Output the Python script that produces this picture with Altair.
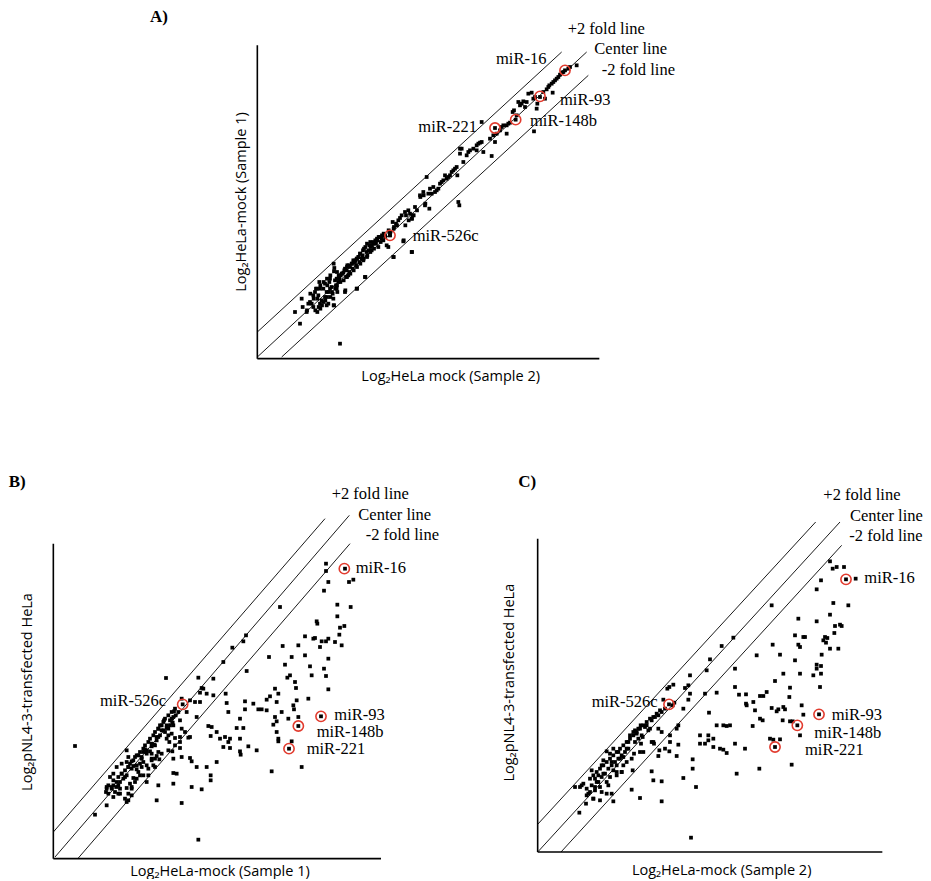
import altair as alt
import pandas as pd

# ---------------- Panel A : HeLa mock sample 1 vs sample 2 ----------------
A_POINTS = [
    (330, 1025), (210, 965), (195, 930),
    (215, 890), (218, 915), (230, 930), (240, 900), (245, 905), (250, 915), (255, 870), (258, 860),
    (262, 930), (265, 880), (268, 840), (270, 905), (275, 895), (280, 860), (285, 885), (290, 870),
    (292, 850), (295, 905), (298, 840), (300, 860), (305, 855), (308, 875), (310, 890), (312, 808),
    (315, 835), (318, 850), (320, 860), (322, 870), (325, 840), (328, 830), (332, 820), (335, 815),
    (340, 812), (345, 800), (348, 825), (350, 805), (352, 790), (355, 820), (358, 810), (360, 795),
    (365, 785), (368, 800), (370, 775), (375, 780), (378, 790), (380, 770), (385, 765), (388, 780),
    (390, 755), (395, 770), (398, 760), (400, 775), (402, 740), (405, 825), (410, 750), (412, 760),
    (415, 745), (418, 730), (422, 735), (425, 745), (430, 720), (432, 740), (438, 725), (442, 715),
    (445, 735), (448, 705), (452, 720), (455, 710), (460, 715), (465, 700), (470, 730), (475, 735),
    (480, 700), (478, 690), (488, 660), (492, 675), (498, 665), (505, 655), (510, 648), (515, 640),
    (520, 718), (525, 630), (528, 640), (535, 625), (540, 635), (545, 650), (548, 640), (555, 615),
    (545, 750), (490, 765), (380, 860), (345, 870), (312, 910), (290, 910), (320, 830), (300, 830),
    (270, 860), (250, 880), (235, 905), (262, 890), (285, 845),
    (311, 785), (321, 810), (326, 820), (336, 815), (343, 805), (351, 795), (356, 790), (366, 785),
    (371, 780), (376, 775), (381, 770), (386, 765), (391, 755), (399, 745), (406, 735), (411, 725),
    (421, 720), (426, 730), (431, 725), (436, 715), (441, 710), (446, 705), (456, 700), (461, 695),
    (466, 705), (406, 825), (381, 860), (346, 865), (296, 870), (301, 885), (281, 900), (271, 920),
    (256, 925), (231, 925), (311, 910), (491, 765), (521, 715), (526, 670), (546, 750), (536, 655),
    (546, 650), (551, 640), (561, 625), (571, 585), (586, 605), (581, 580), (501, 670), (491, 680),
    (481, 690), (476, 685), (421, 750), (411, 765), (401, 770), (391, 785), (381, 795), (371, 805),
    (361, 815), (351, 825), (341, 835), (331, 840), (321, 850), (316, 860), (306, 870), (291, 885),
    (286, 895), (276, 910), (266, 915), (251, 890), (241, 875), (261, 860), (271, 850), (281, 840),
    (291, 830), (301, 820), (313, 798),
    (570, 580), (580, 570), (585, 610), (590, 525), (595, 575), (598, 620), (600, 560), (605, 575),
    (610, 555), (615, 570), (620, 565), (625, 560), (630, 545), (635, 540), (640, 535), (645, 520),
    (650, 530), (655, 525), (660, 520), (665, 510), (670, 505), (675, 500), (680, 495), (682, 520),
    (685, 600), (688, 610), (690, 440), (695, 440), (690, 455), (700, 480), (710, 460), (715, 450),
    (720, 445), (730, 440), (740, 430), (745, 425), (750, 422), (755, 420), (740, 445), (760, 450),
    (785, 462), (780, 410), (790, 400), (795, 420), (800, 395), (810, 385), (815, 375), (820, 370),
    (830, 395), (755, 360),
    (830, 370), (835, 365), (840, 362), (848, 330), (852, 325), (860, 340), (865, 300), (870, 310),
    (875, 305), (880, 298), (885, 315), (890, 300), (895, 275), (905, 272), (910, 290), (915, 285),
    (920, 320), (922, 305), (912, 388), (930, 285), (940, 270), (945, 290), (950, 262), (955, 255),
    (958, 250), (965, 245), (968, 272), (970, 240), (975, 235), (980, 230), (985, 225), (990, 218),
    (995, 212), (1000, 210), (1005, 205), (1015, 200), (1020, 195), (1040, 190), (857, 353),
    (795, 378), (480, 700),
]
A_CIRCLES = [(1005, 205), (930, 283), (857, 353), (795, 378), (480, 700)]
A_FOLDS = [(82, 990, 995, 150), (82, 1065, 1070, 150), (155, 1065, 1075, 220)]
A_AXES = [(82, 130, 82, 1070), (82, 1070, 1108, 1070)]
A_LABELS = [("miR-16", 798, 172), ("miR-93", 990, 293), ("miR-148b", 900, 357),
            ("miR-221", 565, 375), ("miR-526c", 548, 703)]
A_FOLD_LABELS = [("+2 fold line", 1013, 80), ("Center line", 1093, 142), ("-2 fold line", 1115, 205)]
A_XTITLE = ("Log\u2082HeLa mock (Sample 2)", 662, 1125)
A_YTITLE = ("Log\u2082HeLa-mock (Sample 1)", 35, 600)
A_LETTER = ("A)", -240, 45)

# ---------------- Panel B : pNL4-3 vs mock sample 1 ----------------
B_POINTS = [
    (978, 275), (978, 297), (985, 330), (972, 356), (1035, 290), (1047, 330), (1060, 323), (1052, 405),
    (1012, 398), (1012, 433), (1020, 467), (1033, 462), (1018, 488), (985, 500), (978, 508), (965, 508),
    (952, 455), (950, 448), (945, 498), (940, 500), (915, 493), (895, 520), (848, 522), (840, 405),
    (875, 555), (855, 578), (915, 550), (930, 583), (935, 610), (985, 560), (972, 590), (978, 612),
    (985, 652), (1005, 510), (1025, 520), (960, 525), (870, 610), (862, 617), (885, 630), (888, 648),
    (890, 685), (880, 700), (882, 712), (895, 735), (865, 740), (925, 680), (835, 665), (825, 650),
    (810, 673), (800, 683), (830, 690), (807, 555), (760, 695), (775, 712), (785, 712), (800, 715),
    (845, 720), (825, 735), (830, 748), (820, 758), (830, 780), (835, 800), (835, 808), (875, 808),
    (905, 885), (815, 898), (867, 830), (963, 733), (895, 762),
    (735, 712), (735, 688), (740, 597), (738, 490), (730, 508), (697, 527), (670, 570), (640, 620),
    (640, 670), (677, 665), (680, 693), (685, 720), (720, 740), (710, 768), (730, 768), (720, 800),
    (690, 800), (685, 810), (675, 795), (660, 800), (670, 825), (690, 828), (720, 838), (722, 848),
    (745, 823), (770, 835), (625, 762), (650, 780), (632, 792), (635, 765), (605, 648), (600, 662),
    (620, 665), (595, 617), (600, 690), (590, 735), (570, 795), (565, 797), (545, 770), (540, 828),
    (545, 855), (570, 858), (575, 868), (650, 870), (620, 885), (632, 910), (632, 925), (590, 885),
    (575, 945), (605, 952), (545, 993), (520, 903), (530, 905), (520, 935), (520, 860), (517, 838),
    (525, 798), (515, 785), (510, 760), (518, 752), (470, 985), (475, 940), (440, 930), (445, 910),
    (460, 880), (478, 862), (500, 800), (505, 770), (540, 745), (535, 720), (522, 718), (560, 720),
    (570, 685), (585, 690), (548, 697), (595, 1103), (225, 822), (285, 1028), (320, 1000), (320, 945),
    (318, 960), (330, 915), (345, 960), (350, 945), (355, 940), (360, 965), (380, 990), (385, 985),
    (395, 970), (350, 885), (365, 875), (380, 870), (395, 868), (385, 855), (400, 882), (410, 892),
    (415, 900), (420, 875), (425, 885), (430, 870), (410, 850), (430, 840), (435, 832), (440, 845),
    (450, 838), (455, 823), (462, 818), (470, 805), (480, 790), (490, 775), (475, 770), (495, 780),
    (485, 760), (492, 745), (498, 618), (500, 768), (515, 740), (527, 730), (520, 760), (465, 820),
    (440, 880), (425, 860), (405, 930), (395, 945), (375, 915), (390, 935), (360, 930), (340, 905),
    (365, 905), (385, 885), (380, 835), (470, 852), (455, 860), (465, 885), (545, 680), (610, 650),
    (380, 948), (400, 918), (340, 940), (335, 950), (420, 910), (455, 845), (475, 795), (505, 790),
    (508, 810), (540, 795), (555, 780),
    (320, 950), (325, 940), (335, 945), (340, 925), (350, 930), (355, 915), (360, 950), (365, 905),
    (370, 920), (375, 895), (380, 910), (385, 885), (390, 875), (395, 890), (400, 865), (405, 855),
    (410, 880), (415, 850), (420, 840), (425, 855), (430, 830), (435, 820), (440, 835), (445, 810),
    (450, 800), (455, 815), (460, 790), (465, 780), (470, 795), (475, 770), (480, 760), (485, 775),
    (490, 750), (495, 740), (500, 760), (505, 730), (510, 745), (515, 720), (520, 735), (525, 710),
    (355, 965), (340, 975), (325, 965), (395, 950), (385, 965), (375, 980), (410, 920), (430, 910),
    (445, 890), (465, 860), (485, 845), (505, 835), (525, 820), (540, 810), (455, 865), (475, 840),
]
B_CIRCLES = [(1033, 290), (548, 697), (963, 733), (895, 762), (867, 830)]
B_FOLDS = [(160, 1080, 975, 140), (165, 1155, 1048, 130), (235, 1158, 1050, 215)]
B_AXES = [(160, 215, 160, 1160), (160, 1160, 1143, 1160)]
B_LABELS = [("miR-16", 1067, 287), ("miR-526c", 300, 688), ("miR-93", 1003, 728),
            ("miR-148b", 950, 780), ("miR-221", 920, 832)]
B_FOLD_LABELS = [("+2 fold line", 995, 65), ("Center line", 1075, 128), ("-2 fold line", 1097, 190)]
B_XTITLE = ("Log\u2082HeLa-mock (Sample 1)", 660, 1200)
B_YTITLE = ("Log\u2082pNL4-3-transfected HeLa", 85, 660)
B_LETTER = ("B)", 26, 30)

# ---------------- Panel C : pNL4-3 vs mock sample 2 ----------------
C_POINTS = [
    (1080, 268), (1088, 290), (1100, 285), (1122, 285), (1128, 322), (1157, 320), (1053, 325),
    (1040, 352), (1090, 393), (1135, 400), (905, 400), (1080, 428), (1040, 448), (985, 440),
    (1095, 462), (1110, 458), (1115, 462), (1093, 483), (1065, 495), (1072, 498), (1060, 505),
    (1068, 512), (1080, 530), (1105, 530), (975, 490), (1000, 495), (1005, 495), (985, 518),
    (990, 525), (1055, 548), (930, 548), (860, 550), (908, 518), (975, 565), (1040, 578), (1053, 582),
    (1040, 590), (1030, 610), (1053, 605), (1050, 645), (990, 605), (940, 605), (915, 627), (960, 647),
    (958, 675), (995, 700), (940, 705), (945, 712), (925, 712), (920, 718), (905, 708), (890, 660),
    (880, 672), (870, 672), (870, 740), (855, 715), (878, 745), (848, 762), (828, 667), (807, 668),
    (828, 695), (830, 700), (850, 690), (795, 645), (795, 590), (790, 497), (755, 522), (720, 562),
    (740, 662), (717, 722), (705, 665), (710, 595), (660, 610), (655, 640), (645, 648), (660, 665),
    (640, 710), (625, 760), (600, 790), (620, 770), (655, 683), (598, 645), (610, 638), (580, 683),
    (690, 790), (715, 790), (730, 800), (740, 760), (760, 760), (770, 762), (780, 760), (750, 830),
    (760, 833), (770, 843), (795, 815), (825, 830), (730, 825), (705, 815), (690, 815), (715, 805),
    (900, 800), (910, 803), (930, 802), (960, 748), (968, 748), (990, 790), (1000, 728), (965, 878),
    (868, 890), (800, 905), (915, 825), (982, 760), (1047, 727), (938, 745),
    (600, 810), (625, 818), (620, 852), (668, 862), (668, 890), (678, 945), (640, 918), (575, 928),
    (550, 925), (575, 988), (545, 898), (565, 852), (568, 835), (545, 810), (585, 830), (598, 838),
    (575, 780), (565, 770), (552, 815), (510, 978), (485, 953), (488, 895), (492, 845), (520, 840),
    (513, 815), (505, 800), (663, 1097), (315, 945), (328, 1022), (348, 995), (335, 940), (360, 960),
    (375, 945), (370, 980), (390, 945), (395, 960), (410, 965), (415, 940), (430, 988), (375, 920),
    (385, 910), (365, 895), (395, 880), (400, 865), (410, 838), (420, 845), (425, 870), (430, 895),
    (440, 880), (450, 860), (455, 900), (460, 855), (470, 830), (475, 810), (480, 790), (490, 780),
    (495, 775), (500, 785), (505, 770), (512, 760), (518, 795), (525, 765), (530, 760), (540, 770),
    (545, 745), (555, 735), (565, 730), (575, 720), (585, 710), (592, 650), (608, 700), (613, 692),
    (470, 870), (445, 840), (440, 900), (420, 915), (400, 905), (380, 930), (430, 830), (460, 880),
    (350, 970), (390, 985), (597, 697),
    (330, 945), (340, 935), (350, 950), (360, 920), (365, 940), (370, 910), (375, 955), (380, 900),
    (385, 930), (390, 890), (395, 915), (400, 880), (405, 905), (410, 870), (415, 890), (420, 860),
    (425, 880), (430, 850), (435, 870), (440, 840), (445, 860), (450, 830), (455, 850), (460, 820),
    (465, 840), (470, 810), (475, 830), (480, 800), (490, 790), (495, 810), (500, 780), (510, 770),
    (515, 790), (520, 760), (530, 750), (535, 775), (540, 740), (550, 735), (560, 725), (570, 715),
    (355, 965), (370, 980), (410, 930), (425, 965), (455, 900), (485, 860), (510, 840), (550, 810),
    (440, 910),
]
C_CIRCLES = [(1128, 322), (597, 697), (1047, 727), (982, 760), (915, 825)]
C_FOLDS = [(203, 1057, 1037, 150), (205, 1138, 1110, 150), (273, 1140, 1115, 220)]
C_AXES = [(203, 200, 203, 1140), (203, 1140, 1237, 1140)]
C_LABELS = [("miR-16", 1183, 317), ("miR-526c", 365, 690), ("miR-93", 1085, 730),
            ("miR-148b", 1033, 782), ("miR-221", 1005, 835)]
C_FOLD_LABELS = [("+2 fold line", 1060, 70), ("Center line", 1140, 132), ("-2 fold line", 1138, 193)]
C_XTITLE = ("Log\u2082HeLa-mock (Sample 2)", 755, 1197)
C_YTITLE = ("Log\u2082pNL4-3-transfected HeLa", 120, 632)
C_LETTER = ("C)", 145, 30)

SERIF = "Liberation Serif"
SANS = "Open Sans"
RED = "#e23b2e"


def panel(points, circles, folds, axes, labels, fold_labels, xtitle, ytitle, letter,
          xdom, ydom, width, height):
    xs = alt.Scale(domain=xdom, nice=False, zero=False)
    ys = alt.Scale(domain=ydom, nice=False, zero=False, reverse=True)

    def X(f="x"):
        return alt.X(f, type="quantitative", scale=xs, axis=None)

    def Y(f="y"):
        return alt.Y(f, type="quantitative", scale=ys, axis=None)

    pts = pd.DataFrame(points, columns=["x", "y"])
    cir = pd.DataFrame(circles, columns=["x", "y"])
    fl = pd.DataFrame(folds, columns=["x", "y", "x2", "y2"])
    ax = pd.DataFrame(axes, columns=["x", "y", "x2", "y2"])
    lab = pd.DataFrame(labels, columns=["text", "x", "y"])
    flab = pd.DataFrame(fold_labels, columns=["text", "x", "y"])
    xt = pd.DataFrame([xtitle], columns=["text", "x", "y"])
    yt = pd.DataFrame([ytitle], columns=["text", "x", "y"])
    let = pd.DataFrame([letter], columns=["text", "x", "y"])

    fold_rules = alt.Chart(fl).mark_rule(color="black", strokeWidth=0.9).encode(
        x=X(), y=Y(), x2="x2:Q", y2="y2:Q")
    axis_rules = alt.Chart(ax).mark_rule(color="black", strokeWidth=1.6).encode(
        x=X(), y=Y(), x2="x2:Q", y2="y2:Q")
    dots = alt.Chart(pts).mark_square(color="black", size=14, opacity=1).encode(x=X(), y=Y())
    rings = alt.Chart(cir).mark_point(shape="circle", filled=False, color=RED, size=105,
                                      strokeWidth=1.6, opacity=1).encode(x=X(), y=Y())
    mir = alt.Chart(lab).mark_text(align="left", baseline="middle", font=SERIF,
                                   fontSize=16.5, color="black").encode(x=X(), y=Y(), text="text:N")
    fold_txt = alt.Chart(flab).mark_text(align="left", baseline="middle", font=SERIF,
                                         fontSize=16.5, color="black").encode(x=X(), y=Y(), text="text:N")
    xtitle_t = alt.Chart(xt).mark_text(align="center", baseline="middle", font=SANS,
                                       fontSize=14.5, color="black").encode(x=X(), y=Y(), text="text:N")
    ytitle_t = alt.Chart(yt).mark_text(align="center", baseline="middle", font=SANS, angle=270,
                                       fontSize=14.5, color="black").encode(x=X(), y=Y(), text="text:N")
    letter_t = alt.Chart(let).mark_text(align="left", baseline="middle", font=SERIF, fontWeight="bold",
                                        fontSize=17, color="black").encode(x=X(), y=Y(), text="text:N")
    return alt.layer(fold_rules, axis_rules, dots, rings, mir, fold_txt, xtitle_t, ytitle_t,
                     letter_t).properties(width=width, height=height)


chart_a = panel(A_POINTS, A_CIRCLES, A_FOLDS, A_AXES, A_LABELS, A_FOLD_LABELS, A_XTITLE, A_YTITLE,
                A_LETTER, [-666, 2079], [24, 1200], 915, 392)
chart_b = panel(B_POINTS, B_CIRCLES, B_FOLDS, B_AXES, B_LABELS, B_FOLD_LABELS, B_XTITLE, B_YTITLE,
                B_LETTER, [24, 1410], [-210, 1209], 462, 473)
chart_c = panel(C_POINTS, C_CIRCLES, C_FOLDS, C_AXES, C_LABELS, C_FOLD_LABELS, C_XTITLE, C_YTITLE,
                C_LETTER, [0, 1359], [-210, 1209], 453, 473)

chart = alt.vconcat(chart_a, alt.hconcat(chart_b, chart_c, spacing=0), spacing=0).properties(
    padding=0, background="white"
).configure_view(stroke=None)

chart.save("out.html", embed_options={"renderer": "svg", "actions": False})
